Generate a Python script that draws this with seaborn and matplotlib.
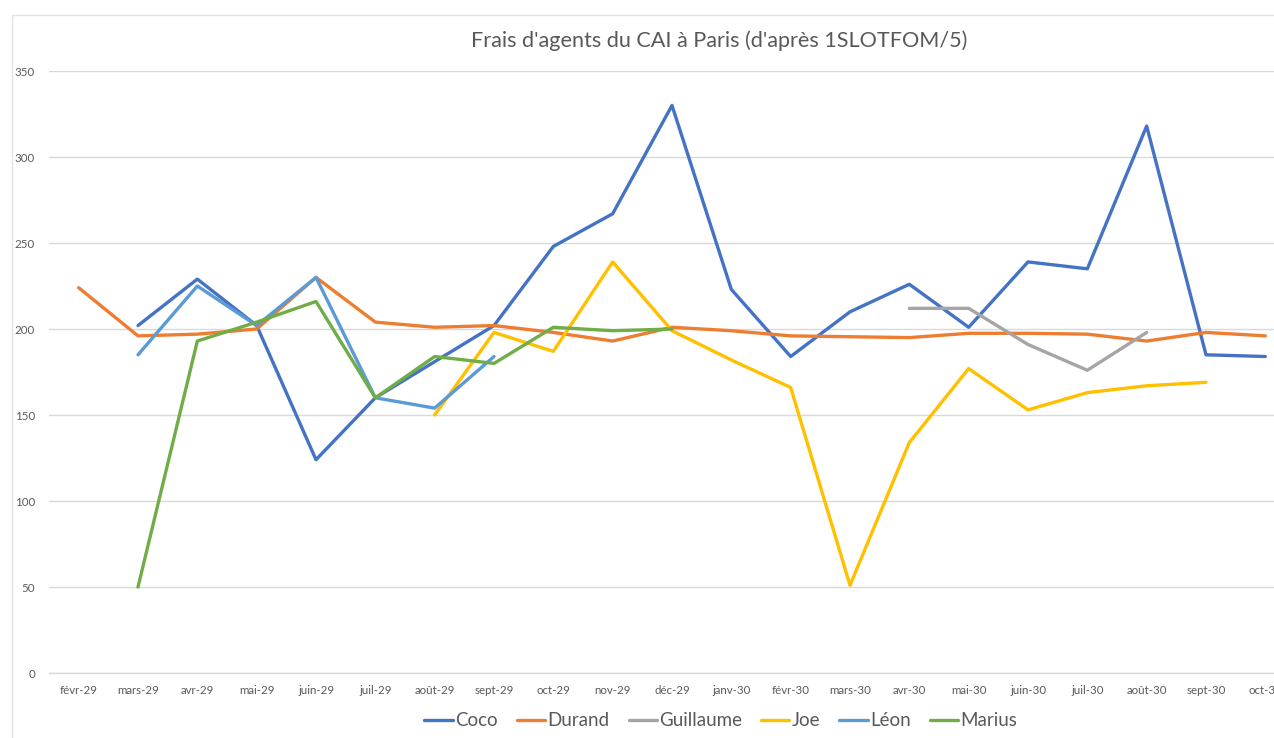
import numpy as np
import pandas as pd
import matplotlib
matplotlib.use("Agg")
import matplotlib.pyplot as plt
from matplotlib.lines import Line2D
import seaborn as sns

# data
months = ["févr-29", "mars-29", "avr-29", "mai-29", "juin-29", "juil-29", "août-29",
          "sept-29", "oct-29", "nov-29", "déc-29", "janv-30", "févr-30", "mars-30",
          "avr-30", "mai-30", "juin-30", "juil-30", "août-30", "sept-30", "oct-30"]
nan = np.nan
coco = [nan, 202, 229, 202, 124, 160, 181, 202, 248, 267, 330, 223, 184, 210,
        226, 201, 239, 235, 318, 185, 184]
durand = [224, 196, 197, 200, 230, 204, 201, 202, 198, 193, 201, 199, 196, 195.5,
          195, 197.5, 197.5, 197, 193, 198, 196]
guillaume = [nan] * 14 + [212, 212, 191, 176, 198, nan, nan]
joe = [nan] * 6 + [150, 198, 187, 239, 199, 182, 166, 51, 134, 177, 153, 163,
                   167, 169, nan]
leon = [nan, 185, 225, 202, 230, 160, 154, 184] + [nan] * 13
marius = [nan, 50, 193, 204, 216, 160, 184, 180, 201, 199, 200] + [nan] * 10

agents = ["Coco", "Durand", "Guillaume", "Joe", "Léon", "Marius"]
colors = ["#4472C4", "#ED7D31", "#A5A5A5", "#FFC000", "#5B9BD5", "#70AD47"]

df = pd.DataFrame({"pos": range(len(months)), "Coco": coco, "Durand": durand,
                   "Guillaume": guillaume, "Joe": joe, "Léon": leon, "Marius": marius})
df_long = df.melt(id_vars="pos", var_name="agent", value_name="frais").dropna()

sns.set_style("white")
plt.rcParams["font.family"] = ["Lato", "DejaVu Sans"]

fig = plt.figure(figsize=(12.74, 7.38), dpi=100)
ax = fig.add_axes([49 / 1274, 65 / 738, 1246 / 1274, 602 / 738])

sns.lineplot(data=df_long, x="pos", y="frais", hue="agent", hue_order=agents,
             palette=colors, linewidth=2.4, legend=False, ax=ax)

grey_txt = "#595959"
grid_col = "#D9D9D9"

ax.set_xlim(-0.5, len(months) - 0.5)
ax.set_ylim(0, 350)
ax.set_yticks(range(0, 351, 50))
ax.set_xticks(range(len(months)))
ax.set_xticklabels(months)
ax.set_xticks(np.arange(-0.5, len(months), 1), minor=True)
ax.tick_params(axis="x", which="major", length=0, pad=9, labelsize=8.3, labelcolor=grey_txt)
ax.tick_params(axis="x", which="minor", length=4, color=grid_col, width=1, direction="out")
ax.tick_params(axis="y", length=0, pad=10, labelsize=8.3, labelcolor=grey_txt)
ax.yaxis.grid(True, color=grid_col, linewidth=1)
ax.set_axisbelow(True)
ax.set_xlabel("")
ax.set_ylabel("")
for s in ["top", "right", "left"]:
    ax.spines[s].set_visible(False)
ax.spines["bottom"].set_color(grid_col)
ax.spines["bottom"].set_linewidth(1)

# chart area border (left and top)
fig.add_artist(Line2D([11.5 / 1274, 11.5 / 1274], [0, 1 - 14.5 / 738],
                      transform=fig.transFigure, color="#E3E3E3", lw=1))
fig.add_artist(Line2D([11.5 / 1274, 1], [1 - 14.5 / 738, 1 - 14.5 / 738],
                      transform=fig.transFigure, color="#E3E3E3", lw=1))

fig.text(719 / 1274, 1 - 41 / 738, "Frais d'agents du CAI à Paris (d'après 1SLOTFOM/5)",
         ha="center", va="center", fontsize=15.6, color=grey_txt)

handles = [Line2D([0], [0], color=c, lw=2.4) for c in colors]
fig.legend(handles, agents, loc="center", bbox_to_anchor=(721 / 1274, 1 - 721 / 738),
           ncol=6, frameon=False, fontsize=13.5, labelcolor=grey_txt,
           handlelength=1.5, handletextpad=0.15, columnspacing=1.0)

fig.savefig("out.png", dpi=100)
